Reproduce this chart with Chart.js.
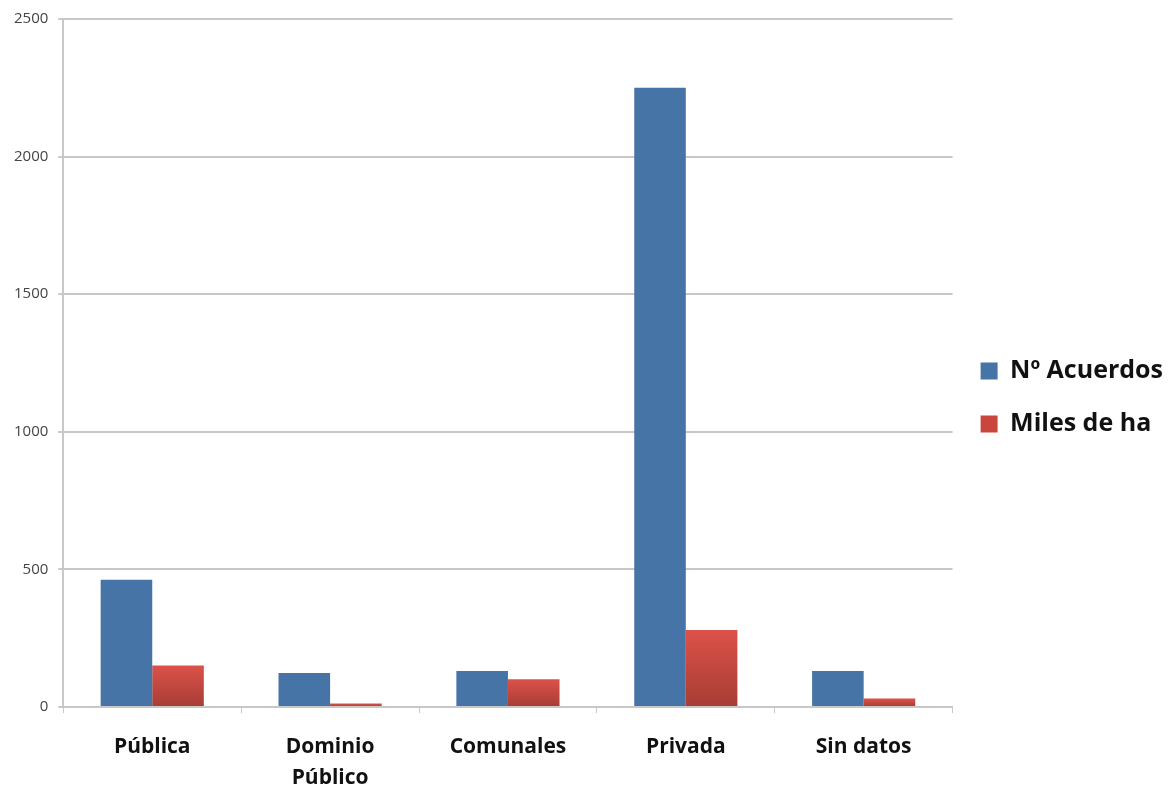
<!DOCTYPE html>
<html>
<head>
<meta charset="utf-8">
<script src="https://cdn.jsdelivr.net/npm/chart.js@4/dist/chart.umd.min.js"></script>
<style>
  html,body{margin:0;padding:0;background:#fff;}
  #wrap{width:1174px;height:789px;position:relative;}
</style>
</head>
<body>
<div id="wrap"><canvas id="c"></canvas></div>
<script>
// categorías y series
const categorias = ["Pública", ["Dominio", "Público"], "Comunales", "Privada", "Sin datos"];
const acuerdos = [462, 124, 131, 2250, 131];
const milesHa = [151, 13, 101, 280, 31];
const yTicks = [0, 500, 1000, 1500, 2000, 2500];

const AZUL = "#4674a6";
const ROJO = "#d5504a";

// degradado por barra: rojo claro arriba, rojo oscuro abajo
function rojoGradiente(ctx){
  const chart = ctx.chart;
  const ys = chart.scales && chart.scales.y;
  if(!chart.chartArea || !ys || ctx.raw == null) return ROJO;
  const top = ys.getPixelForValue(ctx.raw);
  const base = ys.getPixelForValue(0);
  if(!(base > top)) return ROJO;
  const g = chart.ctx.createLinearGradient(0, top, 0, base);
  g.addColorStop(0, "#dc5249");
  g.addColorStop(1, "#a63d35");
  return g;
}

new Chart(document.getElementById("c").getContext("2d"), {
  type: "bar",
  data: {
    labels: categorias,
    datasets: [
      { label: "Nº Acuerdos", data: acuerdos, backgroundColor: AZUL, categoryPercentage: 0.58, barPercentage: 1.0 },
      { label: "Miles de ha", data: milesHa, backgroundColor: rojoGradiente, categoryPercentage: 0.58, barPercentage: 1.0 },
    ],
  },
  options: {
    responsive: true,
    maintainAspectRatio: false,
    animation: false,
    layout: { padding: { top: 6, right: 1, left: 4, bottom: 0 } },
    plugins: {
      tooltip: { enabled: false },
      legend: {
        position: "right",
        align: "center",
        labels: {
          color: "#111",
          font: { family: "'Open Sans', sans-serif", size: 25, weight: "bold" },
          boxWidth: 17,
          boxHeight: 17,
          padding: 28,
          generateLabels(chart){
            return chart.data.datasets.map((ds, i)=>({
              text: ds.label,
              fillStyle: i===0 ? AZUL : "#c9463f",
              strokeStyle: "rgba(0,0,0,0)",
              lineWidth: 0,
              datasetIndex: i,
              fontColor: "#111",
            }));
          },
        },
      },
    },
    scales: {
      x: {
        afterFit(axis){ axis.height = 82; },
        grid: { offset: true, drawOnChartArea: false, drawTicks: true, tickLength: 6, color: "#c8c8c8" },
        border: { color: "#c8c8c8", width: 2 },
        ticks: {
          color: "#111",
          padding: 18,
          maxRotation: 0,
          font: { family: "'Open Sans', sans-serif", size: 21, weight: "bold", lineHeight: 1.48 },
        },
      },
      y: {
        min: 0,
        max: 2500,
        afterBuildTicks(axis){ axis.ticks = yTicks.map(v=>({value:v})); },
        grid: { color: "#c8c8c8", lineWidth: 2, tickLength: 5 },
        border: { color: "#c8c8c8", width: 2 },
        ticks: {
          color: "#444",
          padding: 10,
          callback: v => String(v),
          font: { family: "'Open Sans', sans-serif", size: 15 },
        },
      },
    },
  },
});
</script>
</body>
</html>
